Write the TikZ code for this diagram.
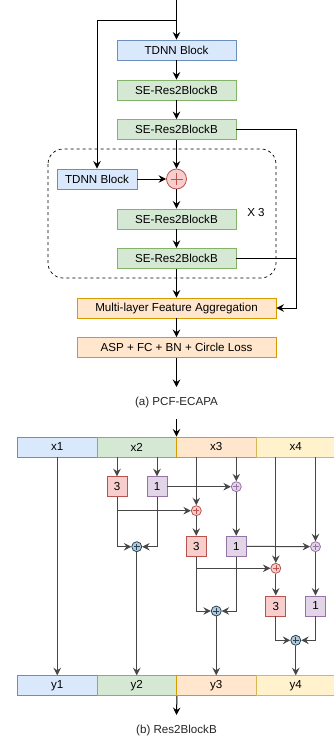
\documentclass[tikz,border=0pt]{standalone}
\usepackage{fontspec}
\setmainfont{Liberation Sans}
\usetikzlibrary{arrows.meta,calc}
\definecolor{bluef}{HTML}{DAE8FC}\definecolor{blued}{HTML}{6C8EBF}
\definecolor{greenf}{HTML}{D5E8D4}\definecolor{greend}{HTML}{82B366}
\definecolor{orangef}{HTML}{FFE6CC}\definecolor{oranged}{HTML}{D79B00}
\definecolor{yellowf}{HTML}{FFF2CC}\definecolor{yellowd}{HTML}{D6B656}
\definecolor{redf}{HTML}{F8CECC}\definecolor{redd}{HTML}{B85450}
\definecolor{purf}{HTML}{E1D5E7}\definecolor{purd}{HTML}{9673A6}
\definecolor{bcf}{HTML}{BAC8D3}\definecolor{bcd}{HTML}{23445D}
\begin{document}
\begin{tikzpicture}[x=1pt,y=-1pt,font=\fontsize{11.6}{13}\selectfont,
  ln/.style={line width=1pt},
  arr/.style={ln,-{Stealth[length=7.5pt,width=7.5pt,inset=2.6pt]}},
  garr/.style={arr,draw=black!72},
  blk/.style={draw,line width=0.9pt,minimum width=119pt,minimum height=20pt,inner sep=0pt},
  tdnn/.style={blk,fill=bluef,draw=blued},
  se/.style={blk,fill=greenf,draw=greend},
  agg/.style={blk,fill=orangef,draw=oranged,minimum width=199pt},
  cell/.style={draw,line width=0.9pt,minimum width=79.5pt,minimum height=20pt,inner sep=0pt},
  sq/.style={draw,line width=0.9pt,minimum size=20pt,inner sep=0pt},
  sq3/.style={sq,fill=redf,draw=redd},
  sq1/.style={sq,fill=purf,draw=purd},
  opl/.style={circle,line width=0.8pt,inner sep=0pt,minimum size=#1,draw,
    path picture={\draw[line width=0.6pt]
      ($(path picture bounding box.north)!0.2!(path picture bounding box.south)$) --
      ($(path picture bounding box.north)!0.8!(path picture bounding box.south)$)
      ($(path picture bounding box.west)!0.2!(path picture bounding box.east)$) --
      ($(path picture bounding box.west)!0.8!(path picture bounding box.east)$);}},
  oplr/.style={opl=#1,color=redd,fill=redf},
  oplp/.style={opl=#1,color=purd,fill=purf},
  oplb/.style={opl=#1,color=bcd,fill=bcf},
  captxt/.style={text=black!85}
]
\useasboundingbox (0,0) rectangle (333,742);
% ---------- (a) PCF-ECAPA ----------
\coordinate (in) at (176.5,0);
\coordinate (split) at (176.5,20);
\node[tdnn] (t1) at (176.5,50) {TDNN Block};
\node[se] (s1) at (176.5,90) {SE-Res2BlockB};
\node[se] (s2) at (176.5,129.5) {SE-Res2BlockB};
\draw[dashed,line width=0.7pt,rounded corners=15pt] (48,149) rectangle (276,278);
\node[oplr=20pt] (p) at (176.5,179) {};
\node[tdnn,minimum width=80pt] (t2) at (97,179) {TDNN Block};
\node[se] (s3) at (176.5,219) {SE-Res2BlockB};
\node[se] (s4) at (176.5,258.3) {SE-Res2BlockB};
\node (x3lbl) at (256,213) {X 3};
\node[agg] (mfa) at (176.5,308) {Multi-layer Feature Aggregation};
\node[agg] (asp) at (176.5,347.5) {ASP + FC + BN + Circle Loss};
\coordinate (aout) at (176.5,387);
\node[captxt] (capa) at (176.5,402) {(a) PCF-ECAPA};
\coordinate (rc) at (296,308);
\draw[ln] (in) -- (split);
\draw[arr] (split) -- (t1);
\draw[arr] (split) -| (t2);
\draw[arr] (t1) -- (s1);
\draw[arr] (s1) -- (s2);
\draw[arr] (s2) -- (p);
\draw[arr] (t2) -- (p);
\draw[arr] (p) -- (s3);
\draw[arr] (s3) -- (s4);
\draw[arr] (s4) -- (mfa);
\draw[arr] (mfa) -- (asp);
\draw[arr] (asp) -- (aout);
\draw[arr] (s2.east) -| (rc) -- (mfa.east);
\draw[ln] (s4.east) -- (s4.east -| rc);
% ---------- (b) Res2BlockB ----------
\coordinate (bin) at (176.5,419);
\node[cell,fill=bluef,draw=blued] (x1) at (57.25,447) {x1};
\node[cell,fill=greenf,draw=greend] (x2) at (136.75,447) {x2};
\node[cell,fill=orangef,draw=oranged] (x3) at (216.25,447) {x3};
\node[cell,fill=yellowf,draw=yellowd] (x4) at (295.75,447) {x4};
\node[cell,fill=bluef,draw=blued] (y1) at (57.25,685.7) {y1};
\node[cell,fill=greenf,draw=greend] (y2) at (136.75,685.7) {y2};
\node[cell,fill=orangef,draw=oranged] (y3) at (216.25,685.7) {y3};
\node[cell,fill=yellowf,draw=yellowd] (y4) at (295.75,685.7) {y4};
\node[sq3] (a3) at (117,486.7) {3};
\node[sq1] (a1) at (157,486.7) {1};
\node[oplp=10pt] (q1) at (236.3,486.7) {};
\node[oplr=10pt] (r1) at (196.3,510.7) {};
\node[oplb=10pt] (b1) at (136.75,546.7) {};
\node[sq3] (c3) at (196.3,546.3) {3};
\node[sq1] (c1) at (236.3,546.3) {1};
\node[oplp=10pt] (q2) at (315.5,546.7) {};
\node[oplr=10pt] (r2) at (275.8,568.3) {};
\node[oplb=10pt] (b2) at (216.25,611) {};
\node[sq3] (d3) at (275.8,606) {3};
\node[sq1] (d1) at (315.5,606) {1};
\node[oplb=10pt] (b3) at (295.75,640.3) {};
\coordinate (bout) at (176.5,715);
\node[captxt] (capb) at (176.5,730) {(b) Res2BlockB};
\draw[arr] (bin) -- (bin |- x1.north);
\draw[garr] (x1) -- (y1);
\draw[garr] (x2.south -| a3) -- (a3);
\draw[garr] (x2.south -| a1) -- (a1);
\draw[garr] (x3.south -| q1) -- (q1);
\draw[garr] (x3.south -| r1) -- (r1);
\draw[garr] (a1) -- (q1);
\draw[garr] (a3.south) |- (r1);
\draw[garr] (a3.south) |- (b1);
\draw[garr] (a1.south) |- (b1);
\draw[garr] (b1) -- (y2);
\draw[garr] (r1) -- (c3);
\draw[garr] (q1) -- (c1);
\draw[garr] (c1) -- (q2);
\draw[garr] (x4.south -| q2) -- (q2);
\draw[garr] (x4.south -| r2) -- (r2);
\draw[garr] (c3.south) |- (r2);
\draw[garr] (c3.south) |- (b2);
\draw[garr] (c1.south) |- (b2);
\draw[garr] (b2) -- (y3);
\draw[garr] (r2) -- (d3);
\draw[garr] (q2) -- (d1);
\draw[garr] (d3.south) |- (b3);
\draw[garr] (d1.south) |- (b3);
\draw[garr] (b3) -- (y4);
\draw[arr] (y2.south east) -- (bout);
\end{tikzpicture}
\end{document}
